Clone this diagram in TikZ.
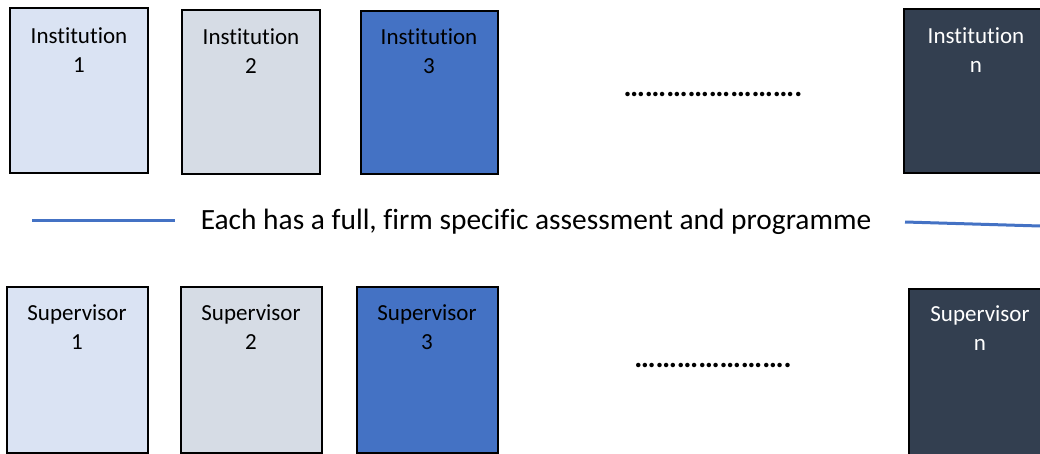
\documentclass[tikz,border=0pt]{standalone}
\usepackage{fontspec}
\setmainfont[Ligatures=NoCommon]{Carlito}
\definecolor{boxA}{HTML}{DAE3F3}
\definecolor{boxB}{HTML}{D6DCE5}
\definecolor{boxC}{HTML}{4472C4}
\definecolor{boxD}{HTML}{333F50}
\definecolor{lineblue}{HTML}{4472C4}
\begin{document}
\begin{tikzpicture}[x=1pt,y=-1pt,
  card/.style={draw=black,line width=1.5pt,inner sep=0pt},
  lbl/.style={font=\fontsize{23}{29}\selectfont,align=center,inner sep=0pt},
  dotsline/.style={font=\fontsize{30}{34}\selectfont\bfseries,inner sep=0pt},
  blueline/.style={draw=lineblue,line width=3pt}]
\useasboundingbox (0,0) rectangle (1040,454);
% top row
\draw[card,fill=boxA] (10,8) rectangle (148,173);
\draw[card,fill=boxB] (182,10) rectangle (320,174);
\draw[card,fill=boxC] (361,11) rectangle (498,174);
\draw[card,fill=boxD] (904,9) rectangle (1045,173);
\node[lbl] (i1) at (79,50) {Institution\\1};
\node[lbl] (i2) at (251,51) {Institution\\2};
\node[lbl] (i3) at (429,51) {Institution\\3};
\node[lbl,text=white] (in) at (976,50) {Institution\\n};
\node[dotsline] (d1) at (713,94) {\ldots\ldots\ldots\ldots\ldots\ldots\ldots\ldots.};
% middle
\node[font=\fontsize{29.4}{34}\selectfont,inner sep=0pt] (mid) at (536,222) {Each has a full, firm specific assessment and programme};
\coordinate (l1a) at (32,221);
\coordinate (l1b) at (175,221);
\coordinate (l2a) at (905,222);
\coordinate (l2b) at (1040,226);
\draw[blueline] (l1a) -- (l1b);
\draw[blueline] (l2a) -- (l2b);
% bottom row
\draw[card,fill=boxA] (7,287) rectangle (148,453);
\draw[card,fill=boxB] (181,287) rectangle (322,453);
\draw[card,fill=boxC] (357,287) rectangle (498,453);
\draw[card,fill=boxD] (909,289) rectangle (1045,460);
\node[lbl] (s1) at (77,327) {Supervisor\\1};
\node[lbl] (s2) at (251,327) {Supervisor\\2};
\node[lbl] (s3) at (427,327) {Supervisor\\3};
\node[lbl,text=white] (sn) at (980,328) {Supervisor\\n};
\node[dotsline] (d2) at (713,365) {\ldots\ldots\ldots\ldots\ldots\ldots\ldots.};
\end{tikzpicture}
\end{document}
